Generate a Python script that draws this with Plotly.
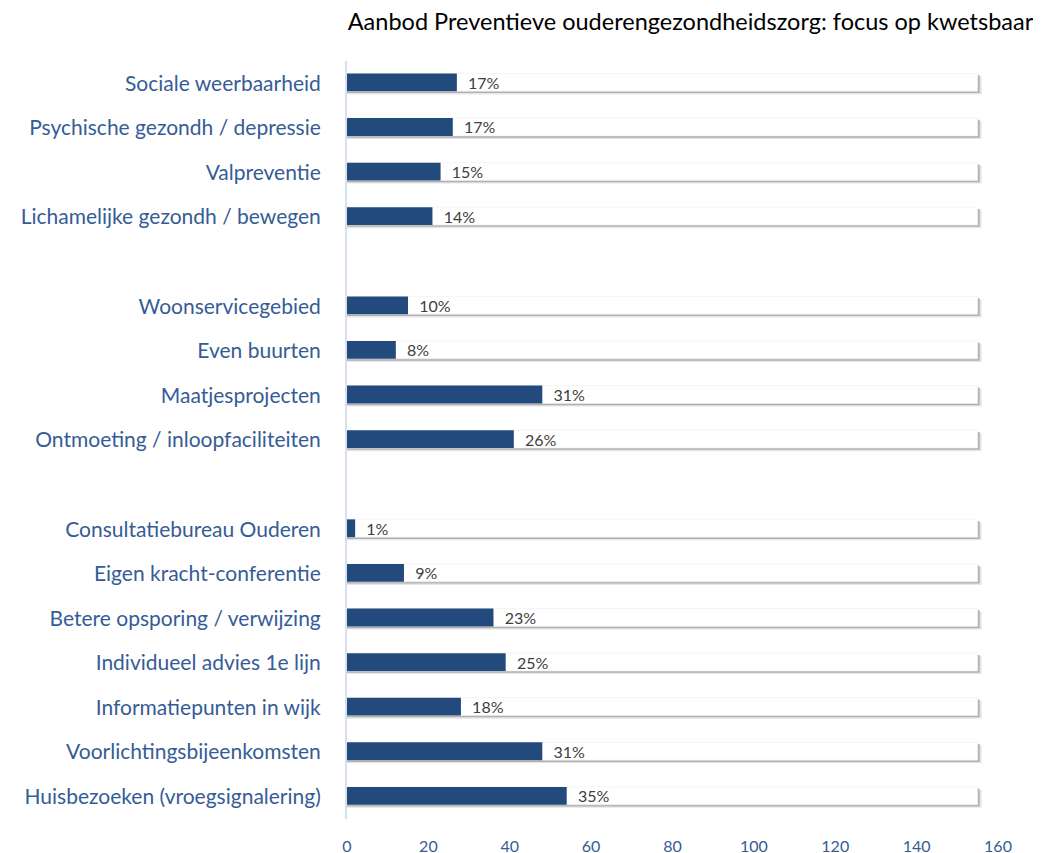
import plotly.graph_objects as go

categories = [
    "Sociale weerbaarheid",
    "Psychische gezondh / depressie",
    "Valpreventie",
    "Lichamelijke gezondh / bewegen",
    " ",
    "Woonservicegebied",
    "Even buurten",
    "Maatjesprojecten",
    "Ontmoeting / inloopfaciliteiten",
    "  ",
    "Consultatiebureau Ouderen",
    "Eigen kracht-conferentie",
    "Betere opsporing / verwijzing",
    "Individueel advies 1e lijn",
    "Informatiepunten in wijk",
    "Voorlichtingsbijeenkomsten",
    "Huisbezoeken (vroegsignalering)",
]
values = [27, 26, 23, 21, None, 15, 12, 48, 41, None, 2, 14, 36, 39, 28, 48, 54]
pct_labels = ["17%", "17%", "15%", "14%", "", "10%", "8%", "31%", "26%", "",
              "1%", "9%", "23%", "25%", "18%", "31%", "35%"]
total = 155
totals = [None if v is None else total for v in values]

x_ticks = [0, 20, 40, 60, 80, 100, 120, 140, 160]

BLUE = "#224A7C"
LABEL_BLUE = "#355C96"

fig = go.Figure()

# soft shadow layers of the background bar
fig.add_trace(go.Bar(
    y=categories, x=[None if t is None else t + 1.0 for t in totals], orientation="h",
    width=0.40, offset=-0.15, marker=dict(color="#e6e6e6", line=dict(width=0)),
    hoverinfo="skip", showlegend=False,
))
fig.add_trace(go.Bar(
    y=categories, x=[None if t is None else t + 0.5 for t in totals], orientation="h",
    width=0.40, offset=-0.18, marker=dict(color="#b0b0b0", line=dict(width=0)),
    hoverinfo="skip", showlegend=False,
))
# white background bar
fig.add_trace(go.Bar(
    y=categories, x=totals, orientation="h",
    width=0.40, offset=-0.22,
    marker=dict(color="white", line=dict(color="#efefef", width=0.6)),
    hoverinfo="skip", showlegend=False,
))
# value bar
fig.add_trace(go.Bar(
    y=categories, x=values, orientation="h",
    width=0.40, offset=-0.22,
    marker=dict(color=BLUE, line=dict(width=0)),
    text=pct_labels, texttemplate="  %{text}", textposition="outside",
    cliponaxis=False, constraintext="none",
    textfont=dict(family="Lato", size=16, color="#404040"),
    showlegend=False,
))

fig.update_layout(
    width=1041, height=853,
    barmode="overlay",
    paper_bgcolor="white", plot_bgcolor="white",
    margin=dict(l=339, r=51, t=53, b=42),
    title=dict(
        text="Aanbod Preventieve ouderengezondheidszorg: focus op kwetsbaar",
        font=dict(family="Lato", size=23.5, color="#000000"),
        x=0.6556, xanchor="center", y=0.9836, yanchor="middle",
    ),
    xaxis=dict(
        range=[0, 160], tickvals=x_ticks, showgrid=False, zeroline=False,
        showline=False, ticks="", automargin=False,
        tickfont=dict(family="Lato", size=16, color=LABEL_BLUE),
        ticklabelstandoff=16,
    ),
    yaxis=dict(
        categoryorder="array", categoryarray=categories,
        autorange=False, range=[16.5, -0.5], automargin=False,
        showgrid=False, zeroline=False,
        showline=True, linecolor="#D6E0F0", linewidth=2,
        ticks="", tickfont=dict(family="Lato", size=21, color=LABEL_BLUE),
        ticklabelstandoff=20,
    ),
    bargap=0.6,
)

fig.write_html("out.html")
